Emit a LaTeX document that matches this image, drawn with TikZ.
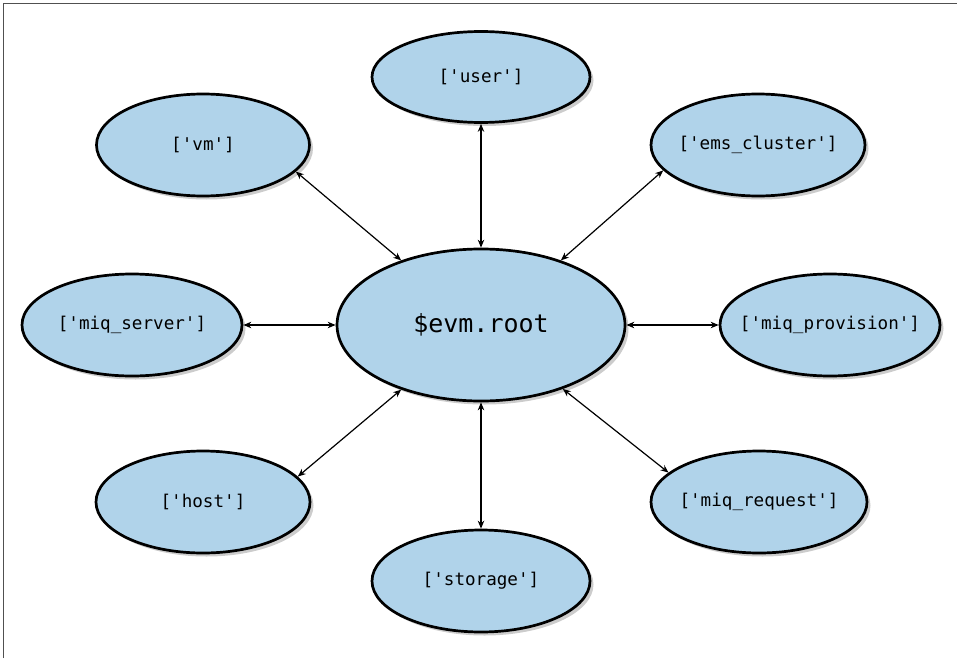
\documentclass[tikz,border=0pt]{standalone}
\usepackage{fontspec}
\newfontfamily\mono{DejaVu Sans Mono}
\usetikzlibrary{shapes.geometric,arrows.meta,shadows}
\definecolor{bubfill}{RGB}{176,211,234}
\definecolor{framegray}{RGB}{80,80,80}
\newcommand{\q}{\textquotesingle}
\tikzset{
  bub/.style={ellipse, draw=black, line width=2.7pt, fill=bubfill, inner sep=0pt,
    drop shadow={shadow xshift=3.5pt, shadow yshift=-3.5pt, fill=black, opacity=0.2}},
  lbl/.style={font=\mono\fontsize{17.6}{20}\selectfont, inner sep=0pt},
  rootlbl/.style={font=\mono\fontsize{25}{28}\selectfont, inner sep=0pt},
  link/.style={{Stealth[length=8pt,width=6.5pt]}-{Stealth[length=8pt,width=6.5pt]}, line width=1.2pt, black},
}
\begin{document}
\begin{tikzpicture}[x=1pt,y=-1pt]
\useasboundingbox (0,0) rectangle (957,658);
\draw[framegray, line width=1.8pt] (3.5,658) coordinate (fbl) -- (3.5,3.5) coordinate (ftl) -- (957,3.5) coordinate (ftr);

\node[bub, minimum width=288pt, minimum height=152pt] (root) at (481,325) {};
\node[rootlbl] (rootT) at (root.center) {\$evm.root};

\node[bub, minimum width=218pt, minimum height=91pt] (user) at (481,77) {};
\node[lbl] (userT) at (user.center) {[\q user\q]};

\node[bub, minimum width=213pt, minimum height=102pt] (vm) at (203,145) {};
\node[lbl] (vmT) at (vm.center) {[\q vm\q]};

\node[bub, minimum width=214pt, minimum height=102pt] (ems) at (758,145) {};
\node[lbl] (emsT) at (ems.center) {[\q ems\_cluster\q]};

\node[bub, minimum width=220pt, minimum height=102pt] (server) at (132,325) {};
\node[lbl] (serverT) at (server.center) {[\q miq\_server\q]};

\node[bub, minimum width=220pt, minimum height=102pt] (prov) at (830,325) {};
\node[lbl] (provT) at (prov.center) {[\q miq\_provision\q]};

\node[bub, minimum width=214pt, minimum height=102pt] (host) at (203,502) {};
\node[lbl] (hostT) at (host.center) {[\q host\q]};

\node[bub, minimum width=216pt, minimum height=102pt] (req) at (759,502) {};
\node[lbl] (reqT) at (req.center) {[\q miq\_request\q]};

\node[bub, minimum width=218pt, minimum height=102pt] (stor) at (481,581) {};
\node[lbl] (storT) at (stor.center) {[\q storage\q]};

\draw[link] (user.south) -- (root.north);
\draw[link] (stor.north) -- (root.south);
\draw[link] (server.east) -- (root.west);
\draw[link] (prov.west) -- (root.east);
\draw[link] (vm.-16) -- (root.141);
\draw[link] (ems.195) -- (root.39.6);
\draw[link] (host.15.6) -- (root.219);
\draw[link] (req.162.5) -- (root.-38);
\end{tikzpicture}
\end{document}
